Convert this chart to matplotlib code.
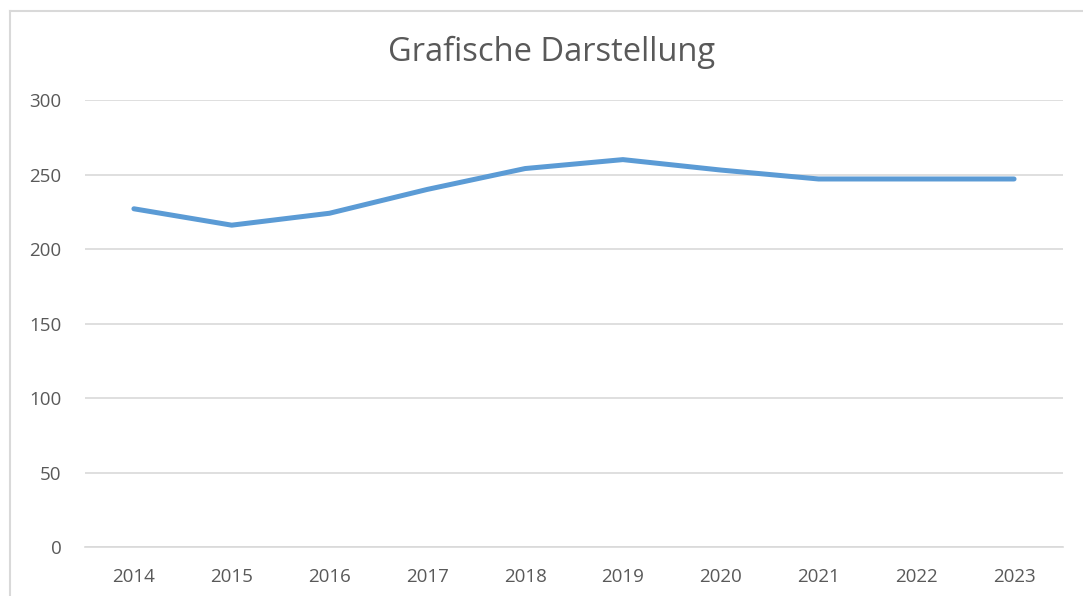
import matplotlib
matplotlib.use('Agg')
import matplotlib.pyplot as plt
from matplotlib.lines import Line2D

# data
years = ['2014', '2015', '2016', '2017', '2018', '2019', '2020', '2021', '2022', '2023']
values = [227, 216, 224, 240, 254, 260, 253, 247, 247, 247]
y_ticks = [0, 50, 100, 150, 200, 250, 300]

plt.rcParams['font.family'] = ['Open Sans', 'DejaVu Sans']
text_col = '#595959'
grid_col = '#d9d9d9'

fig = plt.figure(figsize=(10.83, 5.96), dpi=100)
ax = fig.add_axes([0.0785, 0.0822, 0.903, 0.75])

x = range(len(years))
ax.plot(x, values, color='#5b9bd5', lw=3.6, solid_capstyle='round', solid_joinstyle='round', zorder=3)

ax.set_xlim(-0.5, len(years) - 0.5)
ax.set_ylim(0, 300)
ax.set_yticks(y_ticks)
ax.set_xticks(list(x))
ax.set_xticklabels(years)
ax.yaxis.grid(True, color=grid_col, lw=1.2)
ax.set_axisbelow(True)
for s in ['top', 'right', 'left']:
  ax.spines[s].set_visible(False)
ax.spines['bottom'].set_color(grid_col)
ax.spines['bottom'].set_linewidth(1.2)
ax.tick_params(axis='both', length=0, labelsize=13.5, colors=text_col)
ax.tick_params(axis='y', pad=17)
ax.tick_params(axis='x', pad=15)

fig.text(0.509, 0.912, 'Grafische Darstellung', ha='center', va='center',
         fontsize=23.5, color=text_col)

# chart frame (cut off at right and bottom)
fig.add_artist(Line2D([10/1083, 10/1083], [0, 1 - 11/596], color='#d9d9d9', lw=1.5))
fig.add_artist(Line2D([10/1083, 1], [1 - 11/596, 1 - 11/596], color='#d9d9d9', lw=1.5))

fig.savefig('out.png', dpi=100)
